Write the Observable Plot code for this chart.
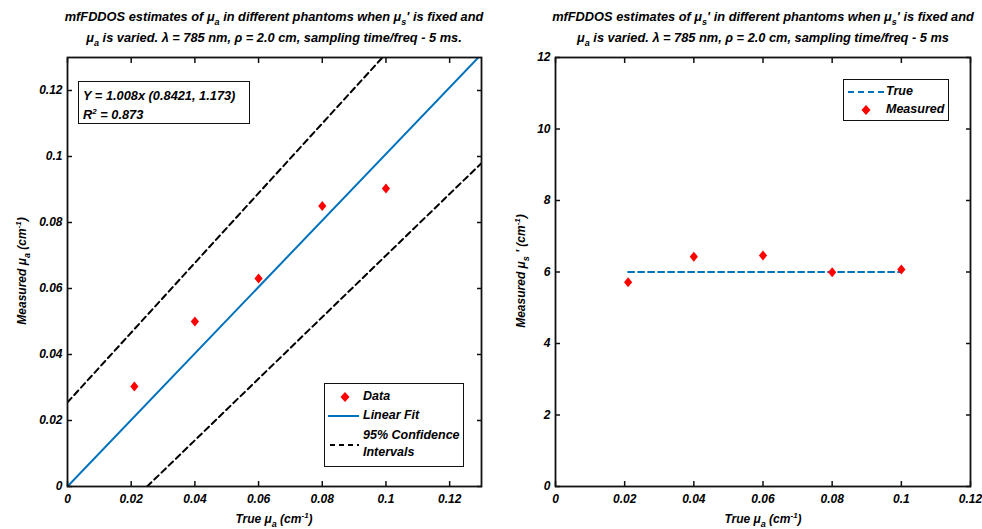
<!DOCTYPE html>
<html><head><meta charset="utf-8">
<script src="https://cdn.jsdelivr.net/npm/d3@7"></script>
<script src="https://cdn.jsdelivr.net/npm/@observablehq/plot@0.6"></script>
<style>
body{margin:0;background:#fff;}
#wrap{position:relative;width:982px;height:529px;overflow:hidden;font-family:"Liberation Sans",Arial,sans-serif;font-weight:bold;font-style:italic;color:#000;font-size:12px}
.abs{position:absolute;white-space:nowrap}
.sb{position:relative;top:4px;font-size:9px}
.sp{position:relative;top:-5px;font-size:8px}
.title{text-align:center;line-height:20px;font-size:12.8px}
.box{border:1.5px solid #111;background:#fff;box-sizing:border-box}
.rot{transform:translate(-50%,-50%) rotate(-90deg)}
.ctr{transform:translate(-50%,-50%)}
svg.leg{vertical-align:middle}
</style>
</head><body>
<div id="wrap"></div>
<script>
// ---------- data ----------
const trueMuA = [0.021, 0.04, 0.06, 0.08, 0.1];
const measuredMuA = [0.0303, 0.0500, 0.0630, 0.0850, 0.0903];
const measuredMuS = [5.71, 6.43, 6.46, 5.99, 6.07];
const trueMuSX = [0.021, 0.1];
const trueMuSY = [6, 6];
const fitX = [0, 0.13];
const fitY = [0, 0.131];
const upperX = [0, 0.0989];
const upperY = [0.0255, 0.13];
const lowerX = [0.025, 0.13];
const lowerY = [0, 0.098];
const leftTicks = [0, 0.02, 0.04, 0.06, 0.08, 0.1, 0.12];
const rightXTicks = [0, 0.02, 0.04, 0.06, 0.08, 0.1, 0.12];
const rightYTicks = [0, 2, 4, 6, 8, 10, 12];

const blue = "#0072BD", red = "#FF0000";
const diamond = {draw(ctx, size){const h=Math.sqrt(size/Math.PI);const w=h*0.82;ctx.moveTo(0,-h);ctx.lineTo(w,0);ctx.lineTo(0,h);ctx.lineTo(-w,0);ctx.closePath();}};
const fmt = d => String(d);
const style = {fontFamily:'"Liberation Sans",Arial,sans-serif',fontSize:"12px",fontWeight:"bold",fontStyle:"italic",color:"#000",background:"transparent",overflow:"visible"};
const pts = (xs, ys) => xs.map((x, i) => ({x, y: ys[i]}));

function axes(xt, yt){
  const t = {tickSize:5,tickFormat:()=>"",label:null,strokeWidth:1.5,stroke:"#111"};
  return [
    Plot.axisX(xt,{anchor:"bottom",tickSize:0,tickPadding:8,tickFormat:fmt,label:null}),
    Plot.axisY(yt,{anchor:"left",tickSize:0,tickPadding:5,tickFormat:fmt,label:null}),
    Plot.axisX(xt,{...t,anchor:"bottom",dy:-5}),
    Plot.axisX(xt,{...t,anchor:"top",dy:5}),
    Plot.axisY(yt,{...t,anchor:"left",dx:5}),
    Plot.axisY(yt,{...t,anchor:"right",dx:-5}),
    Plot.frame({stroke:"#111",strokeWidth:1.8})
  ];
}

const left = Plot.plot({
  width:491,height:529,marginLeft:67,marginRight:10,marginTop:57,marginBottom:43,
  x:{domain:[0,0.13]},y:{domain:[0,0.13]},style,
  marks:[
    Plot.line(pts(upperX,upperY),{x:"x",y:"y",stroke:"#000",strokeWidth:2,strokeDasharray:"6,4",clip:true}),
    Plot.line(pts(lowerX,lowerY),{x:"x",y:"y",stroke:"#000",strokeWidth:2,strokeDasharray:"6,4",clip:true}),
    Plot.line(pts(fitX,fitY),{x:"x",y:"y",stroke:blue,strokeWidth:2,clip:true}),
    Plot.dot(pts(trueMuA,measuredMuA),{x:"x",y:"y",symbol:diamond,r:5,fill:red,stroke:"none"}),
    ...axes(leftTicks,leftTicks)
  ]
});
const right = Plot.plot({
  width:491,height:529,marginLeft:64,marginRight:12,marginTop:57,marginBottom:43,
  x:{domain:[0,0.12]},y:{domain:[0,12]},style,
  marks:[
    Plot.line(pts(trueMuSX,trueMuSY),{x:"x",y:"y",stroke:blue,strokeWidth:2,strokeDasharray:"6,4"}),
    Plot.dot(pts(trueMuA,measuredMuS),{x:"x",y:"y",symbol:diamond,r:5,fill:red,stroke:"none"}),
    ...axes(rightXTicks,rightYTicks)
  ]
});
const wrap = document.getElementById("wrap");
left.style.position="absolute";left.style.left="0px";left.style.top="0px";
right.style.position="absolute";right.style.left="491px";right.style.top="0px";
wrap.appendChild(left);wrap.appendChild(right);

const mu = s => `\u03bc<span class="sb">${s}</span>`;
const html = `
<div class="abs title ctr" style="left:274px;top:28px">mfFDDOS estimates of ${mu("a")} in different phantoms when ${mu("s")}' is fixed and<br>${mu("a")} is varied. \u03bb = 785 nm, \u03c1 = 2.0 cm, sampling time/freq - 5 ms.</div>
<div class="abs title ctr" style="left:763px;top:28px">mfFDDOS estimates of ${mu("s")}' in different phantoms when ${mu("s")}' is fixed and<br>${mu("a")} is varied. \u03bb = 785 nm, \u03c1 = 2.0 cm, sampling time/freq - 5 ms</div>
<div class="abs ctr" style="left:274px;top:519px">True ${mu("a")} (cm<span class="sp">-1</span>)</div>
<div class="abs ctr" style="left:763px;top:519px">True ${mu("a")} (cm<span class="sp">-1</span>)</div>
<div class="abs rot" style="left:22px;top:271px">Measured ${mu("a")} (cm<span class="sp">-1</span>)</div>
<div class="abs rot" style="left:521px;top:271px">Measured ${mu("s")} ' (cm<span class="sp">-1</span>)</div>
<div class="abs box" style="left:78px;top:81px;width:172px;height:43px;padding:4px 0 0 4px;line-height:19px;font-size:12.8px">Y = 1.008x (0.8421, 1.173)<br>R<span class="sp">2</span> = 0.873</div>
<div class="abs box" style="left:324px;top:383px;width:140px;height:84px;line-height:19px;padding-top:3px;font-size:12.5px">
 <div><svg class="leg" width="38" height="12"><path d="M20,1L24.5,6L20,11L15.5,6Z" fill="${red}"/></svg>Data</div>
 <div><svg class="leg" width="38" height="12"><path d="M3,6H34" stroke="${blue}" stroke-width="2"/></svg>Linear Fit</div>
 <div style="position:relative;line-height:17px;padding-top:2px"><svg class="leg" width="38" height="12" style="position:absolute;left:0;top:14px"><path d="M5,6H34" stroke="#000" stroke-width="2" stroke-dasharray="5,4"/></svg><div style="padding-left:38px">95% Confidence<br>Intervals</div></div>
</div>
<div class="abs box" style="left:843px;top:79px;width:106px;height:42px;line-height:18px;padding-top:2px;font-size:12.5px">
 <div><svg class="leg" width="42" height="12"><path d="M4,6H40" stroke="${blue}" stroke-width="2" stroke-dasharray="6,4"/></svg>True</div>
 <div><svg class="leg" width="42" height="12"><path d="M22,1L26.5,6L22,11L17.5,6Z" fill="${red}"/></svg>Measured</div>
</div>`;
wrap.insertAdjacentHTML("beforeend", html);
</script>
</body></html>
